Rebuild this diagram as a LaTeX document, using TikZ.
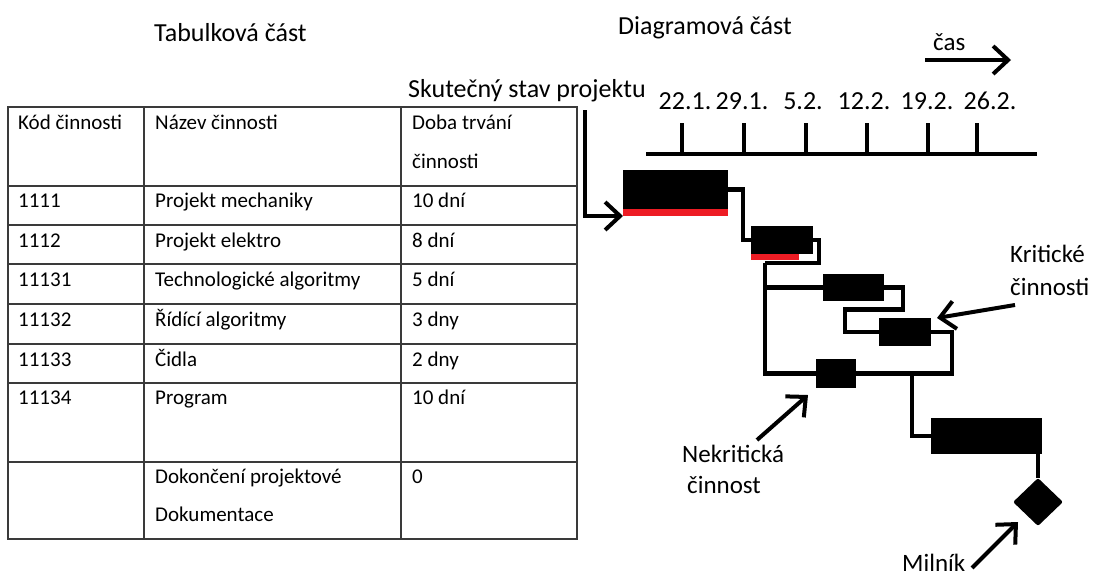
\documentclass[tikz,border=0pt]{standalone}
\usepackage{fontspec}
\setmainfont{Carlito}
\usetikzlibrary{arrows.meta,shapes.geometric,calc}
\definecolor{paintred}{HTML}{ED1C24}
\definecolor{gridgray}{HTML}{3A3A3A}
\begin{document}
\begin{tikzpicture}[x=1pt,y=-1pt,
  cell/.style={anchor=base west, inner sep=0pt, font=\fontsize{21}{25}\selectfont},
  caption/.style={anchor=base west, inner sep=0pt, font=\fontsize{25}{30}\selectfont},
  heading/.style={anchor=base west, inner sep=0pt, font=\fontsize{26}{31}\selectfont},
  datelabel/.style={anchor=base, inner sep=0pt, font=\fontsize{26}{30}\selectfont},
  grid/.style={draw=gridgray, line width=1.3pt},
  bar/.style={fill=black, inner sep=0pt, outer sep=0pt},
  redstrip/.style={fill=paintred, inner sep=0pt, outer sep=0pt, anchor=north west},
  link/.style={line width=4.5pt},
  pointer/.style={line width=4pt, -{Straight Barb[length=15pt,width=28pt]}}
]
\useasboundingbox (0,0) rectangle (1094,576);

% ---------- titles ----------
\node[heading] (tabtitle) at (154,41) {Tabulková část};
\node[heading] (diagtitle) at (618,34) {Diagramová část};

% ---------- table ----------
\draw[grid] (8,107) rectangle (577,539);
\foreach \y in {186,225,264,304,344,383,462}
  \draw[grid] (8,\y) -- (577,\y);
\draw[grid] (144,107) -- (144,539);
\draw[grid] (401,107) -- (401,539);

\node[cell] (h1) at (18,129) {Kód činnosti};
\node[cell] (h2) at (155,129) {Název činnosti};
\node[cell] (h3a) at (412,129) {Doba trvání};
\node[cell] (h3b) at (412,168) {činnosti};

\node[cell] (k1) at (18,207) {1111};
\node[cell] (n1) at (155,207) {Projekt mechaniky};
\node[cell] (t1) at (412,207) {10 dní};

\node[cell] (k2) at (18,247) {1112};
\node[cell] (n2) at (155,247) {Projekt elektro};
\node[cell] (t2) at (412,247) {8 dní};

\node[cell] (k3) at (18,286) {11131};
\node[cell] (n3) at (155,286) {Technologické algoritmy};
\node[cell] (t3) at (412,286) {5 dní};

\node[cell] (k4) at (18,326) {11132};
\node[cell] (n4) at (155,326) {Řídící algoritmy};
\node[cell] (t4) at (412,326) {3 dny};

\node[cell] (k5) at (18,366) {11133};
\node[cell] (n5) at (155,366) {Čidla};
\node[cell] (t5) at (412,366) {2 dny};

\node[cell] (k6) at (18,404) {11134};
\node[cell] (n6) at (155,404) {Program};
\node[cell] (t6) at (412,404) {10 dní};

\node[cell] (n7a) at (155,483) {Dokončení projektové};
\node[cell] (n7b) at (155,521) {Dokumentace};
\node[cell] (t7) at (412,483) {0};

% ---------- time axis ----------
\node[caption] (caslabel) at (933,50) {čas};
\coordinate (timeA) at (925,60);
\coordinate (timeB) at (1011,60);
\draw[pointer] (timeA) -- (timeB);

\coordinate (axisL) at (646,154);
\coordinate (axisR) at (1037,154);
\draw[link] (axisL) -- (axisR);
\foreach \x in {682,744,806,867,928,977}
  \draw[link] (\x,123) -- (\x,154);

\node[datelabel] (d1) at (685,109) {22.1.};
\node[datelabel] (d2) at (742,109) {29.1.};
\node[datelabel] (d3) at (803,109) {5.2.};
\node[datelabel] (d4) at (864,109) {12.2.};
\node[datelabel] (d5) at (927,109) {19.2.};
\node[datelabel] (d6) at (990,109) {26.2.};

% ---------- activity bars ----------
\node[bar, minimum width=105pt, minimum height=39pt] (b1) at (675.5,189.5) {};
\node[redstrip, minimum width=105pt, minimum height=7pt] (r1) at (b1.south west) {};
\node[bar, minimum width=62pt, minimum height=28pt] (b2) at (782,240) {};
\node[redstrip, minimum width=48pt, minimum height=6pt] (r2) at (b2.south west) {};
\node[bar, minimum width=61pt, minimum height=27pt] (b3) at (853.5,287.5) {};
\node[bar, minimum width=52pt, minimum height=28pt] (b4) at (905,332) {};
\node[bar, minimum width=40pt, minimum height=29pt] (b5) at (836,373.5) {};
\node[bar, minimum width=111pt, minimum height=36pt] (b6) at (986.5,436) {};
\node[diamond, fill=black, inner sep=0pt, minimum width=50pt, minimum height=48pt,
      rounded corners=2pt] (ms) at (1038,502) {};

% ---------- dependencies ----------
\coordinate (split) at (765,263);
\coordinate (merge) at (912,373.5);
\draw[link] (b1.east) -| ($(b2.west)+(-8,0)$) -- (b2.west);
\draw[link] (b2.east) -- ++(6,0) |- (split);
\draw[link] (split) |- (b5.west);
\draw[link] (split |- b3.west) -- (b3.west);
\draw[link] (b3.east) -- ++(19,0) -- ++(0,22) -| ($(b4.west)+(-34,0)$) -- (b4.west);
\draw[link] (b4.east) -- ++(21,0) |- (b5.east);
\draw[link] (merge) |- (b6.west);
\draw[link] (ms.north |- b6.south) -- (ms.north);

% ---------- annotations ----------
\node[heading] (skut) at (408,97) {Skutečný stav projektu};
\coordinate (skutStart) at (585,110);
\draw[pointer] (skutStart) |- (r1.south west);

\node[caption] (krit1) at (1010,262) {Kritické};
\node[caption] (krit2) at (1010,295) {činnosti};
\coordinate (kritStart) at (1015,305);
\coordinate (kritTip) at (937,318);
\draw[pointer] (kritStart) -- (kritTip);

\node[caption] (nekrit1) at (682,462) {Nekritická};
\node[caption] (nekrit2) at (687,493) {činnost};
\coordinate (nekritStart) at (757,440);
\coordinate (nekritTip) at (808,395);
\draw[pointer] (nekritStart) -- (nekritTip);

\node[caption] (milnik) at (902,571) {Milník};
\coordinate (milStart) at (972,568);
\coordinate (milTip) at (1018,522);
\draw[pointer] (milStart) -- (milTip);
\end{tikzpicture}
\end{document}
